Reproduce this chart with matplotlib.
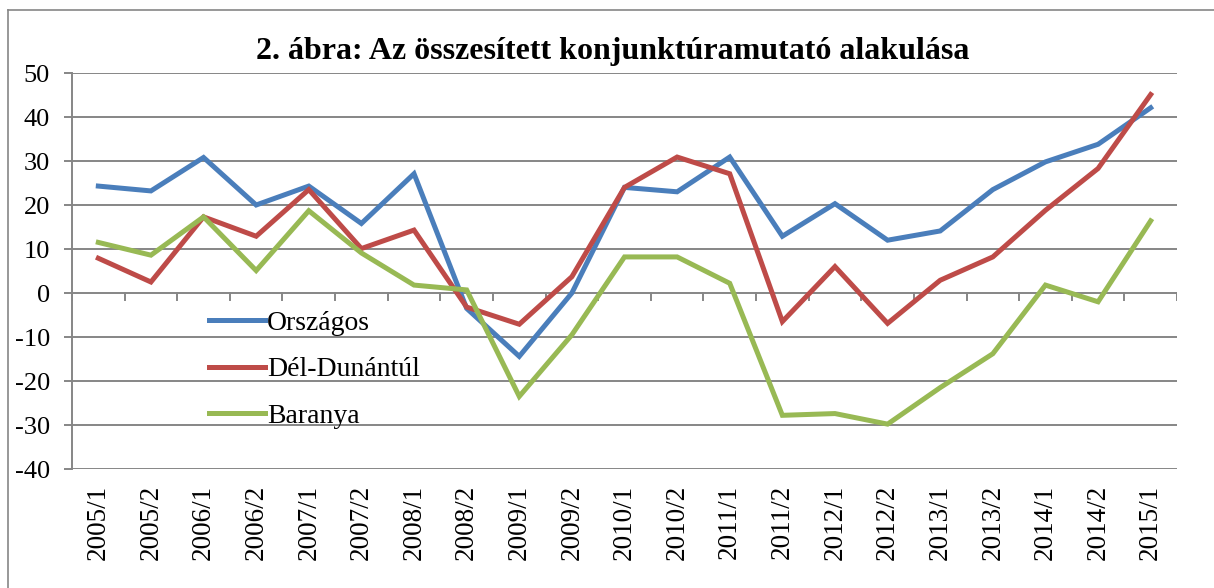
import matplotlib.pyplot as plt
from matplotlib.lines import Line2D

periods = ["2005/1", "2005/2", "2006/1", "2006/2", "2007/1", "2007/2", "2008/1",
           "2008/2", "2009/1", "2009/2", "2010/1", "2010/2", "2011/1", "2011/2",
           "2012/1", "2012/2", "2013/1", "2013/2", "2014/1", "2014/2", "2015/1"]

orszagos = [24.3, 23.2, 30.8, 20.0, 24.3, 15.8, 27.1, -3.5, -14.4, 0.0, 24.0,
            23.0, 30.9, 12.9, 20.3, 12.0, 14.1, 23.5, 29.8, 33.8, 42.1]
del_dunantul = [7.9, 2.5, 17.3, 12.9, 23.5, 10.1, 14.3, -3.2, -7.1, 3.7, 24.0,
                30.9, 27.1, -6.5, 6.0, -6.9, 2.9, 8.2, 18.8, 28.3, 45.1]
baranya = [11.5, 8.6, 17.3, 5.1, 18.7, 9.1, 1.8, 0.7, -23.5, -9.5, 8.2,
           8.2, 2.2, -27.8, -27.4, -29.8, -21.5, -13.8, 1.8, -2.0, 16.4]

series_names = ["Országos", "Dél-Dunántúl", "Baranya"]
colors = ["#4A7EBB", "#BE4B48", "#98B954"]
grid_col = "#868686"

plt.rcParams['font.family'] = ['Liberation Serif', 'DejaVu Serif']
plt.rcParams['axes.unicode_minus'] = False

fig = plt.figure(figsize=(12.14, 5.88), dpi=100)
ax = fig.add_axes([72 / 1214, 1 - 469 / 588, 1105 / 1214, 396 / 588])

x = list(range(len(periods)))
for vals, name, c in zip([orszagos, del_dunantul, baranya], series_names, colors):
    ax.plot(x, vals, color=c, linewidth=3.6, label=name, solid_joinstyle='miter')

ax.set_xlim(-0.5, len(periods) - 0.5)
ax.set_ylim(-40, 50)
ax.set_yticks(range(-40, 51, 10))
for yv in range(-40, 51, 10):
    ax.axhline(yv, color=grid_col, linewidth=1.4, zorder=0)

# category boundary ticks hanging from the zero line
for k in range(len(periods) + 1):
    ax.plot([k - 0.5, k - 0.5], [0, -1.7], color=grid_col, linewidth=1.4, zorder=0)

for s in ["top", "right", "bottom"]:
    ax.spines[s].set_visible(False)
ax.spines["left"].set_color(grid_col)
ax.spines["left"].set_linewidth(1.4)

ax.set_xticks(x)
ax.set_xticklabels(periods, rotation=90, fontsize=19.5)
ax.tick_params(axis='x', length=0, pad=11.5)
ax.tick_params(axis='y', labelsize=19, length=5.8, width=1.4, color=grid_col, pad=10)

ax.legend(loc='upper left', bbox_to_anchor=(0.124, 0.40), frameon=False,
          fontsize=20, handlelength=2.0, handletextpad=0.1, labelspacing=0.75,
          borderpad=0, borderaxespad=0)

fig.text(0.505, 0.913, "2. ábra: Az összesített konjunktúramutató alakulása",
         ha='center', va='center', fontsize=23, fontweight='bold')

# outer chart frame
fig.add_artist(Line2D([8 / 1214, 1.0], [1 - 10 / 588, 1 - 10 / 588], color=grid_col, linewidth=1.2))
fig.add_artist(Line2D([8 / 1214, 8 / 1214], [0.0, 1 - 10 / 588], color=grid_col, linewidth=1.2))

fig.savefig("out.png", dpi=100)
